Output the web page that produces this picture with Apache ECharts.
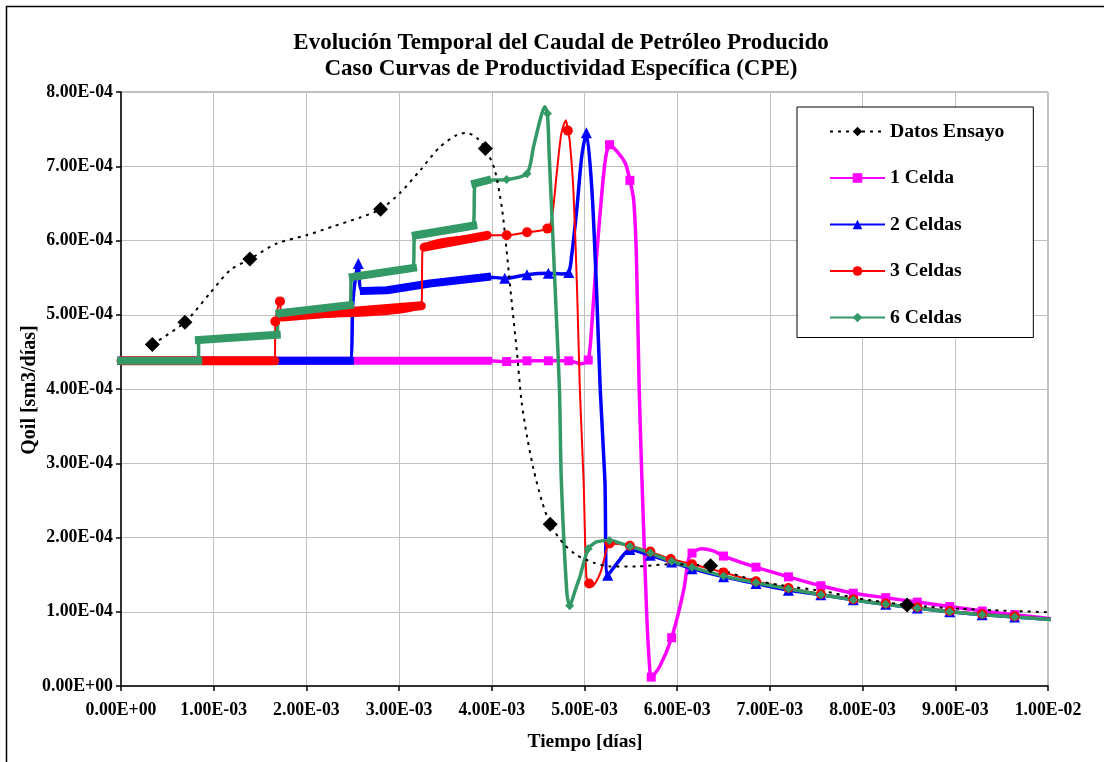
<!DOCTYPE html>
<html><head><meta charset="utf-8">
<script src="https://cdn.jsdelivr.net/npm/echarts@6/dist/echarts.min.js"></script>
<style>html,body{margin:0;padding:0;background:#fff}#c{width:1104px;height:762px}</style>
</head><body><div id="c"></div>
<script>
// Units: t in 1e-3 days, q in 1e-4 sm3/dia. Third value: 1 = marker shown at this point.
const T = 1e-3, Q = 1e-4;
const seriesNames = ['Datos Ensayo', '1 Celda', '2 Celdas', '3 Celdas', '6 Celdas'];

const datosEnsayo = [
  [0.338,4.60,1],[0.69,4.90,1],[0.96,5.29,0],[1.176,5.60,0],[1.39,5.75,1],[1.68,5.96,0],[2.0,6.07,0],
  [2.29,6.19,0],[2.58,6.31,0],[2.80,6.42,1],[3.01,6.64,0],[3.23,6.95,0],[3.44,7.26,0],[3.62,7.42,0],
  [3.73,7.45,0],[3.84,7.38,0],[3.93,7.24,1],[4.03,6.96,0],[4.11,6.43,0],[4.16,5.86,0],[4.21,5.23,0],
  [4.27,4.51,0],[4.32,3.84,0],[4.38,3.36,0],[4.45,2.92,0],[4.54,2.49,0],[4.63,2.18,1],[4.77,1.92,0],
  [4.92,1.76,0],[5.10,1.66,0],[5.28,1.61,0],[5.56,1.61,0],[5.92,1.64,0],[6.17,1.63,0],[6.36,1.62,1],
  [6.53,1.54,0],[6.82,1.43,0],[7.11,1.36,0],[7.61,1.27,0],[7.95,1.18,0],[8.48,1.09,1],[8.69,1.07,0],
  [9.05,1.04,0],[9.41,1.02,0],[10.08,0.99,0]
];
const celda1 = [
  [0,4.38,0],[3.96,4.38,0],[4.16,4.37,1],[4.38,4.38,1],[4.61,4.38,1],[4.83,4.38,1],[4.97,4.34,0],
  [5.04,4.39,1],[5.08,4.88,0],[5.13,5.78,0],[5.19,6.68,0],[5.23,7.13,0],[5.27,7.29,1],[5.35,7.20,0],
  [5.44,7.04,0],[5.49,6.81,1],[5.53,6.55,0],[5.56,5.78,0],[5.59,4.00,0],[5.62,2.77,0],[5.67,1.00,0],
  [5.70,0.30,0],[5.72,0.12,1],[5.81,0.26,0],[5.94,0.65,1],[6.07,1.29,0],[6.12,1.70,0],[6.16,1.79,1],
  [6.26,1.85,0],[6.39,1.82,0],[6.50,1.75,1],[6.85,1.60,1],[7.20,1.47,1],[7.55,1.35,1],[7.90,1.25,1],
  [8.25,1.19,1],[8.59,1.13,1],[8.94,1.07,1],[9.29,1.01,1],[9.64,0.96,1],[10.08,0.90,0]
];
const celda2 = [
  [0,4.38,0],[2.47,4.38,0],[2.50,5.15,0],[2.53,5.50,0],[2.56,5.69,1],[2.60,5.33,0],[2.87,5.33,0],
  [3.33,5.42,0],[3.95,5.51,0],[4.14,5.49,1],[4.38,5.54,1],[4.61,5.56,1],[4.75,5.55,0],[4.83,5.57,1],
  [4.86,5.78,0],[4.92,6.46,0],[4.97,7.13,0],[5.02,7.45,1],[5.08,6.68,0],[5.13,5.33,0],[5.17,3.99,0],
  [5.22,2.77,0],[5.25,1.49,1],[5.38,1.70,0],[5.49,1.84,1],[5.71,1.76,1],[5.94,1.67,1],[6.16,1.58,1],
  [6.50,1.47,1],[6.85,1.38,1],[7.20,1.29,1],[7.55,1.23,1],[7.90,1.16,1],[8.25,1.10,1],[8.59,1.05,1],
  [8.94,1.00,1],[9.29,0.96,1],[9.64,0.93,1],[10.08,0.89,0]
];
const celda3 = [
  [0,4.38,0],[1.66,4.38,0],[1.665,4.91,1],[1.715,5.18,1],[1.74,4.97,0],[3.24,5.12,0],[3.255,5.90,0],
  [3.95,6.07,0],[4.16,6.07,1],[4.38,6.11,1],[4.60,6.16,1],[4.65,6.32,0],[4.70,6.90,0],[4.75,7.44,0],
  [4.80,7.62,0],[4.82,7.48,1],[4.84,7.35,0],[4.88,6.68,0],[4.92,5.33,0],[4.95,3.99,0],[4.99,2.77,0],
  [5.02,1.47,0],[5.05,1.38,1],[5.08,1.34,0],[5.17,1.52,0],[5.25,1.90,0],[5.27,1.92,1],[5.49,1.89,1],
  [5.71,1.81,1],[5.93,1.71,1],[6.16,1.64,1],[6.50,1.53,1],[6.85,1.41,1],[7.20,1.32,1],[7.55,1.24,1],
  [7.90,1.17,1],[8.25,1.11,1],[8.59,1.06,1],[8.94,1.01,1],[9.29,0.97,1],[9.64,0.94,1],[10.08,0.90,0]
];
const celda6 = [
  [0,4.38,0],[0.834,4.38,0],[0.84,4.66,0],[1.68,4.73,0],[1.70,5.02,0],[2.47,5.13,0],[2.49,5.51,0],
  [3.15,5.63,0],[3.17,6.07,0],[3.80,6.20,0],[3.82,6.77,0],[3.95,6.81,0],[4.16,6.82,1],[4.38,6.90,1],
  [4.45,7.26,0],[4.52,7.62,0],[4.57,7.80,0],[4.60,7.71,1],[4.62,7.13,0],[4.66,6.01,0],[4.70,4.88,0],
  [4.73,3.99,0],[4.75,2.77,0],[4.81,1.25,0],[4.84,1.08,1],[4.90,1.29,0],[4.95,1.47,0],[5.04,1.85,1],
  [5.13,1.94,0],[5.27,1.96,1],[5.49,1.88,1],[5.71,1.79,1],[5.94,1.68,1],[6.16,1.60,1],[6.50,1.48,1],
  [6.85,1.39,1],[7.20,1.31,1],[7.55,1.23,1],[7.90,1.16,1],[8.25,1.10,1],[8.59,1.05,1],[8.94,1.00,1],
  [9.29,0.96,1],[9.64,0.93,1],[10.08,0.89,0]
];
// Densely-marked stretches (markers merge into a thick band)
const banda1 = [[[0,4.38],[3.96,4.38]]];
const banda2 = [[[0,4.38],[2.47,4.38]], [[2.62,5.32],[2.87,5.33],[3.33,5.42],[3.95,5.51]]];
const banda3 = [[[0,4.38],[1.66,4.38]], [[1.74,4.97],[3.24,5.12]], [[3.27,5.91],[3.95,6.07]]];
const banda6 = [[[0,4.38],[0.834,4.38]], [[0.84,4.66],[1.68,4.73]], [[1.71,5.02],[2.47,5.13]],
                [[2.50,5.51],[3.15,5.63]], [[3.18,6.07],[3.80,6.20]], [[3.82,6.77],[3.95,6.81]]];

const FONT = '"Liberation Serif", "Times New Roman", serif';

function fmtE(v) {
  const s = Number(v).toExponential(2);
  const parts = s.split('e');
  const sign = parts[1][0];
  const d = parts[1].slice(1).padStart(2, '0');
  return parts[0] + 'E' + sign + d;
}

function mainSeries(name, arr, color, width, symbol, size, ltype) {
  return {
    name: name, type: 'line', smooth: 0.25, clip: false, animation: false,
    symbol: symbol, symbolSize: size, showSymbol: true,
    data: arr.map(p => ({ value: [p[0] * T, p[1] * Q], symbol: p[2] ? symbol : 'none' })),
    lineStyle: { color: color, width: width, type: ltype || 'solid' },
    itemStyle: { color: color, borderWidth: 0 },
    emphasis: { disabled: true }
  };
}
function bandSeries(bands, color, width, cap) {
  return bands.map((b, i) => ({
    name: '_band_' + color + i, type: 'line', smooth: false, clip: false, animation: false,
    symbol: 'none', silent: true,
    data: b.map(p => [p[0] * T, p[1] * Q]),
    lineStyle: { color: color, width: width, cap: cap },
    emphasis: { disabled: true }
  }));
}

const MAG = '#FF00FF', BLUE = '#0000FF', RED = '#FF0000', GREEN = '#339966';

const series = [].concat(
  bandSeries(banda1, MAG, 8, 'square'),
  [mainSeries(seriesNames[1], celda1, MAG, 3.5, 'rect', 9)],
  bandSeries(banda2, BLUE, 8, 'square'),
  [mainSeries(seriesNames[2], celda2, BLUE, 3.5, 'triangle', 11)],
  bandSeries(banda3, RED, 9, 'round'),
  [mainSeries(seriesNames[3], celda3, RED, 2, 'circle', 10)],
  bandSeries(banda6, GREEN, 8, 'square'),
  [mainSeries(seriesNames[4], celda6, GREEN, 3.5, 'diamond', 9)],
  [mainSeries(seriesNames[0], datosEnsayo, '#000000', 2, 'diamond', 15, [3, 5])]
);

const chart = echarts.init(document.getElementById('c'), null, { renderer: 'canvas' });
chart.setOption({
  backgroundColor: '#ffffff',
  animation: false,
  grid: { left: 121, top: 92, right: 56, bottom: 76, show: true, borderColor: '#808080', borderWidth: 1, backgroundColor: 'transparent' },
  xAxis: {
    type: 'value', min: 0, max: 0.01, interval: 0.001,
    axisLine: { show: true, lineStyle: { color: '#000', width: 1.5 } },
    axisTick: { show: true, inside: false, length: 5, lineStyle: { color: '#000', width: 1.5 } },
    splitLine: { show: true, lineStyle: { color: '#c0c0c0', width: 1 } },
    axisLabel: { margin: 15, formatter: fmtE, fontFamily: FONT, fontWeight: 'bold', fontSize: 17.8, color: '#000', showMinLabel: true, showMaxLabel: true }
  },
  yAxis: {
    type: 'value', min: 0, max: 8e-4, interval: 1e-4,
    axisLine: { show: true, lineStyle: { color: '#000', width: 1.5 } },
    axisTick: { show: true, inside: false, length: 5, lineStyle: { color: '#000', width: 1.5 } },
    splitLine: { show: true, lineStyle: { color: '#c0c0c0', width: 1 } },
    axisLabel: { margin: 8, formatter: fmtE, fontFamily: FONT, fontWeight: 'bold', fontSize: 17.8, color: '#000' }
  },
  legend: {
    orient: 'vertical', left: 797, top: 107,
    data: seriesNames,
    padding: [14.5, 29, 10, 32],
    itemWidth: 55, itemHeight: 12, itemGap: 26.5,
    backgroundColor: '#fff', borderColor: '#000', borderWidth: 1, borderRadius: 0,
    selectedMode: false,
    textStyle: { fontFamily: FONT, fontWeight: 'bold', fontSize: 19.7, color: '#000' }
  },
  graphic: [
    { type: 'rect', shape: { x: 6.5, y: 6.5, width: 1200, height: 1000 }, style: { fill: 'none', stroke: '#000', lineWidth: 1.5 }, silent: true },
    { type: 'text', x: 561, y: 42.6, style: { text: 'Evolución Temporal del Caudal de Petróleo Producido', font: 'bold 23px ' + FONT, fill: '#000', align: 'center', verticalAlign: 'middle' } },
    { type: 'text', x: 561, y: 69.3, style: { text: 'Caso Curvas de Productividad Específica (CPE)', font: 'bold 23px ' + FONT, fill: '#000', align: 'center', verticalAlign: 'middle' } },
    { type: 'text', x: 585, y: 742, style: { text: 'Tiempo [días]', font: 'bold 19.5px ' + FONT, fill: '#000', align: 'center', verticalAlign: 'middle' } },
    { type: 'text', x: 30, y: 390, rotation: Math.PI / 2, style: { text: 'Qoil [sm3/días]', font: 'bold 20px ' + FONT, fill: '#000', align: 'center', verticalAlign: 'middle' } }
  ],
  series: series
});
</script></body></html>
